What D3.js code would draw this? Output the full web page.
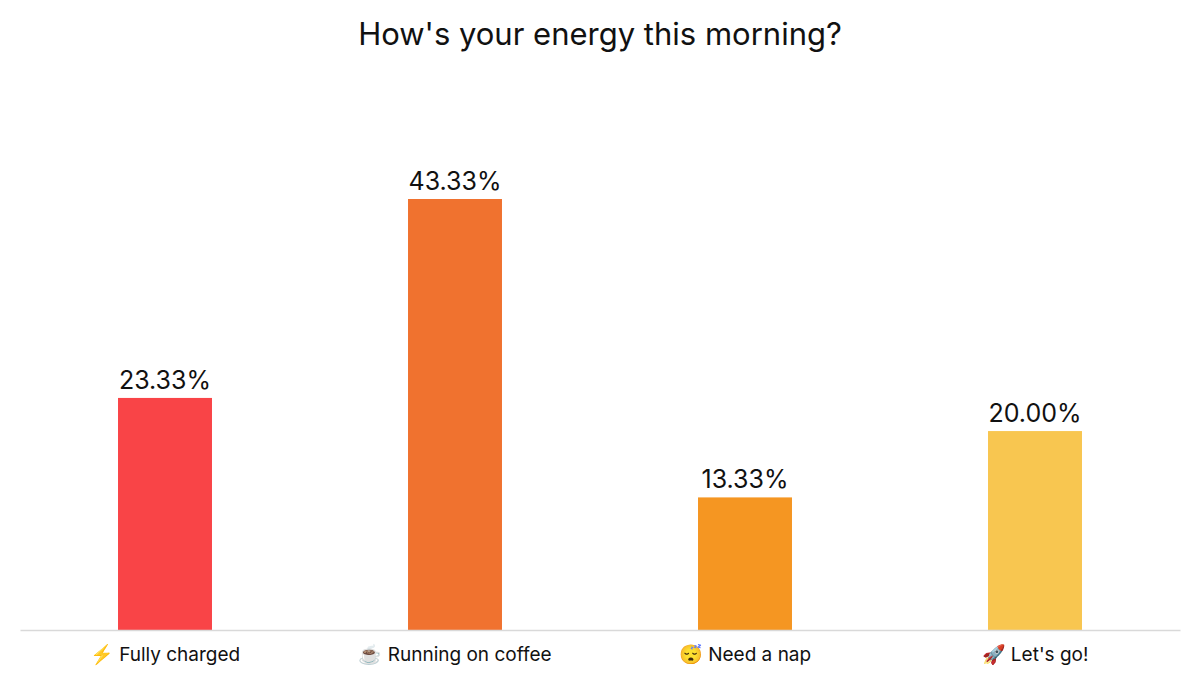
<!DOCTYPE html>
<html><head><meta charset="utf-8">
<script src="https://cdn.jsdelivr.net/npm/d3@7"></script>
<style>html,body{margin:0;padding:0;background:#fff;}svg{display:block;}</style>
</head><body>
<svg id="chart" width="1200" height="685"></svg>
<script>
const title = "How's your energy this morning?";
const categories = ["⚡ Fully charged", "☕ Running on coffee", "😴 Need a nap", "🚀 Let's go!"];
const values = [23.33, 43.33, 13.33, 20.00];
const colors = ["#f94447", "#f0722f", "#f59622", "#f8c650"];

const svg = d3.select("#chart");
const W = 1200, H = 685;
const font = "Inter, 'Noto Sans', sans-serif";
const x = d3.scaleBand().domain(categories).range([20, 1180]).padding(0);
const y = d3.scaleLinear().domain([0, 43.33]).range([630, 199]);
const bw = x.bandwidth() * 0.324;

svg.append("text").attr("x", W/2).attr("y", 45).attr("text-anchor", "middle")
  .attr("font-family", font).attr("font-size", 31).attr("font-weight", 400)
  .attr("fill", "#111").text(title);

svg.selectAll("rect.bar").data(values).join("rect").attr("class", "bar")
  .attr("x", (d,i) => x(categories[i]) + x.bandwidth()/2 - bw/2)
  .attr("width", bw)
  .attr("y", d => y(d))
  .attr("height", d => y(0) - y(d))
  .attr("fill", (d,i) => colors[i]);

svg.selectAll("text.val").data(values).join("text").attr("class", "val")
  .attr("x", (d,i) => x(categories[i]) + x.bandwidth()/2)
  .attr("y", d => y(d) - 9)
  .attr("text-anchor", "middle").attr("font-family", font).attr("font-size", 25)
  .attr("fill", "#111").text(d => d.toFixed(2) + "%");

const axis = d3.axisBottom(x).tickSize(0).tickPadding(18);
const g = svg.append("g").attr("transform", `translate(0,${y(0)})`).call(axis);
g.select(".domain").attr("stroke", "#d9d9d9").attr("stroke-width", 1.5);
g.selectAll("text").attr("font-family", font).attr("font-size", 19).attr("fill", "#111");
</script>
</body></html>
